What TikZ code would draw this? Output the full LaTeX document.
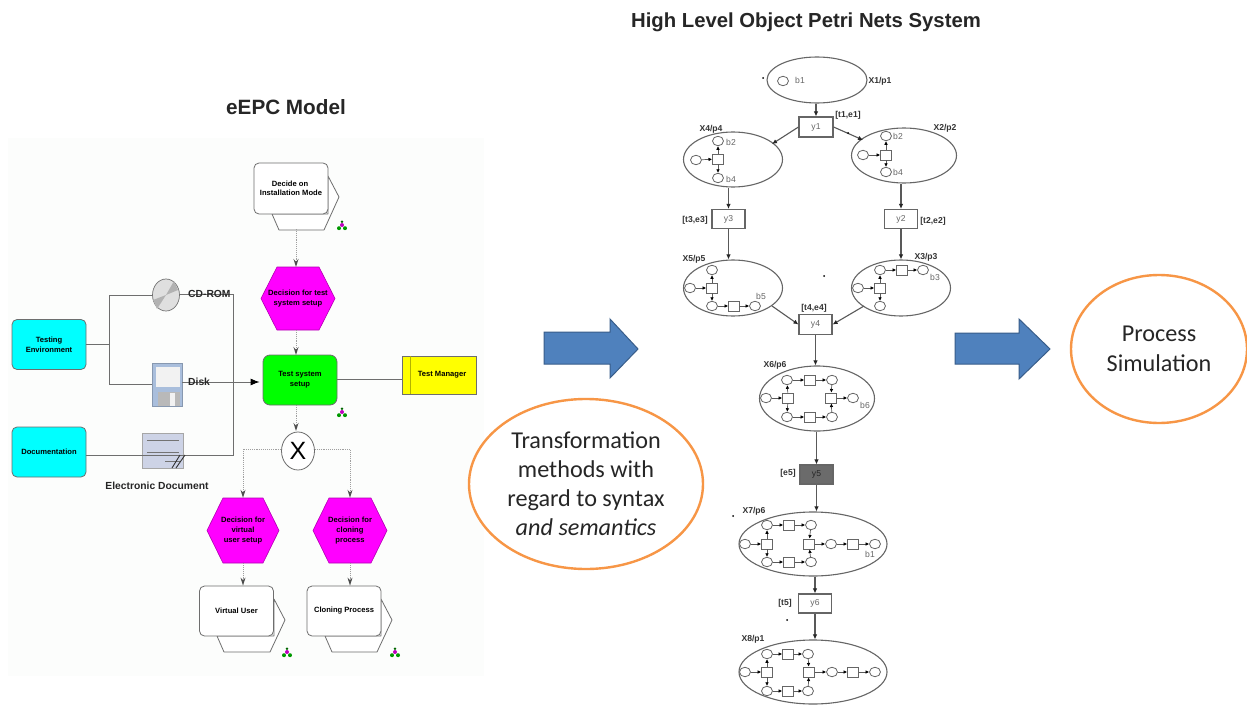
\documentclass[tikz,border=0pt]{standalone}
\usepackage{fontspec}
\setmainfont{Liberation Sans}
\newfontfamily\calloutfont{Carlito}
\usetikzlibrary{shapes.geometric,arrows.meta,calc}
\definecolor{panel}{HTML}{FCFDFC}
\definecolor{orangeline}{HTML}{F79646}
\definecolor{bluefill}{HTML}{4F81BD}
\definecolor{blueedge}{HTML}{385D8A}
\definecolor{edgegray}{HTML}{6E6E6E}
\definecolor{magentafill}{HTML}{FF00FF}
\definecolor{cyanfill}{HTML}{00FFFF}
\definecolor{greenfill}{HTML}{00FF00}
\definecolor{yellowfill}{HTML}{FFFF00}
\definecolor{iconblue}{HTML}{A9BEDC}
\definecolor{docblue}{HTML}{CDD3E6}
\tikzset{
  x=1pt,y=-1pt,
  titletext/.style={font=\bfseries\fontsize{20.7}{24}\selectfont,text=black!85,inner sep=0},
  epcbox/.style={rounded corners=5pt,draw=edgegray,line width=.8pt,minimum width=74pt,minimum height=50pt,inner sep=0,align=center,font=\bfseries\fontsize{7.6}{10}\selectfont},
  bluebox/.style={epcbox,fill=cyanfill},
  hexlabel/.style={inner sep=0,align=center,font=\bfseries\fontsize{7.6}{10}\selectfont},
  hexshape/.style={fill=magentafill,draw=magentafill!70!black,line width=.6pt},
  pentshape/.style={fill=white,draw=edgegray,line width=.8pt,line join=round},
  flowline/.style={draw=gray!75,densely dotted,line width=.9pt,-{Stealth[open,length=8pt,width=5pt,black!70]}},
  assoc/.style={draw=edgegray,line width=.9pt},
  iconlabel/.style={inner sep=0,font=\bfseries\fontsize{10.3}{12}\selectfont,text=black!85},
  bigarrow/.style={fill=bluefill,draw=blueedge,line width=1pt},
  callout/.style={ellipse,draw=orangeline,line width=2.4pt,fill=white,inner sep=0,align=center},
  ptext/.style={inner sep=0,font=\bfseries\fontsize{8.6}{10}\selectfont,text=black!80},
  gtext/.style={inner sep=0,font=\fontsize{8.6}{10}\selectfont,text=black!60},
  region/.style={ellipse,draw=black!60,line width=1.1pt,inner sep=0},
  tbox/.style={draw=black!60,line width=1.1pt,fill=white,inner sep=0,minimum width=33pt,minimum height=19pt,font=\fontsize{8.6}{10}\selectfont,text=black!60},
  plc/.style={ellipse,draw=black!60,line width=.8pt,fill=white,inner sep=0,minimum width=11pt,minimum height=9.5pt},
  trn/.style={rectangle,draw=black!60,line width=.8pt,fill=white,inner sep=0,minimum width=11pt,minimum height=10pt},
  pnedge/.style={draw=black!65,line width=1.1pt,-{Latex[length=5pt,width=4.5pt,black!85]}},
  inarc/.style={draw=black!65,line width=.7pt,-{Latex[length=3.6pt,width=3.6pt,black]}},
  speck/.style={circle,fill=black,inner sep=0,minimum size=2pt},
}
\newcommand{\hexnode}[6]{%
  \path[hexshape] (#2-#4,#3) -- (#2-#4+16,#3-#5) -- (#2+#4-16,#3-#5) -- (#2+#4,#3) -- (#2+#4-16,#3+#5) -- (#2-#4+16,#3+#5) -- cycle;
  \node[hexlabel,minimum width=2*#4*1pt,minimum height=2*#5*1pt] (#1) at (#2,#3) {#6};}
\newcommand{\rolepent}[4]{% left x, top y of box, box width, box height
  \path[pentshape] (#1+#3,#2+13) -- (#1+#3+11,#2+34) -- (#1+#3-4,#2+#4+16) -- (#1+25,#2+#4+16) -- (#1+18,#2+#4) -- (#1+#3,#2+#4) -- cycle;}
\newcommand{\tiicon}[2]{%
  \fill[green!60!black] (#1-3,#2+3.2) circle (2pt) (#1+3,#2+3.2) circle (2pt);
  \fill[magentafill!75!black] (#1,#2) circle (2pt);
  \fill[green!40!black] (#1,#2-3.2) circle (1.4pt);}
\newcommand{\plc}[3]{\node[plc] (#1) at (#2,#3) {};}
\newcommand{\trn}[3]{\node[trn] (#1) at (#2,#3) {};}
\newcommand{\arcs}[1]{\foreach \a/\b in {#1} \draw[inarc] (\a) -- (\b);}
\begin{document}
\begin{tikzpicture}
\useasboundingbox (0,0) rectangle (1247,706);
\fill[white] (0,0) rectangle (1247,706);
\fill[panel] (8,138) rectangle (484,676);

% titles
\node[titletext] (t1) at (286,107) {eEPC Model};
\node[titletext,font=\bfseries\fontsize{20.3}{24}\selectfont] (t2) at (806,22) {High Level Object Petri Nets System};

% --- eEPC model ---
\coordinate (j1) at (109,344);
\coordinate (j2) at (233,294);
\coordinate (j3) at (233,455);
\rolepent{254}{163}{74}{51}
\node[epcbox,fill=white,minimum height=51pt] (decide) at (291,188.5) {\hspace*{-2pt}Decide on\\[-.5pt]Installation Mode};
\hexnode{dtest}{298}{298.5}{37}{31.5}{Decision for test\\system setup}
\node[epcbox,fill=greenfill,rounded corners=7pt] (tss) at (300,380) {Test system\\setup};
\node[draw=edgegray,fill=yellowfill,line width=.8pt,minimum width=74pt,minimum height=38pt,inner sep=0,font=\bfseries\fontsize{7.6}{10}\selectfont] (tm) at (439,375) {\hspace*{6pt}Test Manager};
\draw[yellowfill!70!black,line width=.5pt] (410,356) -- (410,394);
\node[bluebox] (te) at (49,344.5) {Testing\\Environment};
\node[bluebox] (docu) at (49,452) {Documentation};

% resources
\node[ellipse,draw=black!55,fill=gray!25,line width=.7pt,minimum width=27pt,minimum height=32pt,inner sep=0] (cd) at (166,295) {};
\fill[gray!60] (166,295) -- (174,281) -- (178,290) -- cycle;
\fill[gray!60] (166,295) -- (157,309) -- (153,300) -- cycle;
\node[rectangle,fill=iconblue,draw=iconblue!80!black,line width=.6pt,minimum width=30pt,minimum height=43pt,inner sep=0] (disk) at (167,384.5) {};
\fill[gray!10] (156,367) rectangle (180,387);
\fill[gray!55] (158,392) rectangle (180,406);
\fill[gray!10] (170,393) rectangle (175,406);
\node[rectangle,fill=docblue,draw=black!35,line width=.6pt,minimum width=41pt,minimum height=35pt,inner sep=0] (edoc) at (162.5,450.5) {};
\draw[black!55,line width=.8pt] (147,440) -- (179,440) (147,452) -- (179,452) (165,461) -- (180,461);
\draw[assoc] (te.east |- j1) -- (j1);
\draw[assoc] (j1 |- cd.west) -- (cd.west);
\draw[assoc] (j1) |- (disk.west);
\draw[assoc] (j1) -- (j1 |- cd.west);
\draw[assoc] (docu.east |- j3) -- (j3) -- (j2) -- (cd.east |- j2);
\draw[black!80,line width=.9pt] (172,468) -- (180,455) (176,468) -- (185,455);
\draw[assoc,-{Latex[length=9pt,width=7pt,black]},shorten >=3pt] (disk.east |- 0,382) -- (tss.west |- 0,382);
\draw[assoc] (tss.east |- 0,379) -- (tm.west |- 0,379);
\node[iconlabel,anchor=west] (lcd) at (188,294) {CD-ROM};
\node[iconlabel,anchor=west] (ldisk) at (188,382) {Disk};
\node[iconlabel] (ledoc) at (157,486) {Electronic Document};

% XOR and lower branches
\node[ellipse,draw=edgegray,fill=white,line width=.8pt,minimum width=33pt,minimum height=38pt,inner sep=0,font=\fontsize{25}{25}\selectfont] (xor) at (298,451) {X};
\hexnode{dvirt}{243}{530.5}{36}{32.5}{Decision for\\virtual\\user setup}
\hexnode{dclone}{350}{530.5}{37}{32.5}{Decision for\\cloning\\process}
\rolepent{199}{586}{75}{50}
\node[epcbox,fill=white] (vuser) at (236.5,611) {Virtual User};
\rolepent{307}{586}{74}{50}
\node[epcbox,fill=white] (cproc) at (344,611) {Cloning Process};
\draw[flowline] (296,229) -- (296,267);
\draw[flowline] (296,330) -- (296,355);
\draw[flowline] (296,405) -- (296,431);
\draw[flowline] (xor.west |- 0,449) -| (dvirt.north);
\draw[flowline] (xor.east |- 0,449) -| (dclone.north);
\draw[flowline] (dvirt.south) -- (vuser.north -| dvirt.south);
\draw[flowline] (dclone.south) -- (cproc.north -| dclone.south);
\tiicon{342}{225}
\tiicon{342}{412}
\tiicon{287}{652}
\tiicon{395}{652}

% --- block arrows ---
\path[bigarrow] (544,332) -- (610,332) -- (610,319) -- (638,349) -- (610,378) -- (610,364) -- (544,364) -- cycle;
\path[bigarrow] (955,333) -- (1019,333) -- (1019,319) -- (1050,349) -- (1019,379) -- (1019,364) -- (955,364) -- cycle;

% --- callouts ---
\node[callout,minimum width=234pt,minimum height=170pt,font=\calloutfont\fontsize{24.2}{29}\selectfont,text=black!85] (co1) at (586,484) {Transformation\\methods with\\regard to syntax\\\itshape and semantics};
\node[callout,minimum width=176pt,minimum height=148pt,font=\calloutfont\fontsize{24.2}{30}\selectfont,text=black!85] (co2) at (1159,349) {Process\\Simulation};

% --- Petri net: regions ---
\node[region,minimum width=100pt,minimum height=46pt] (X1) at (817,80) {};
\node[region,minimum width=99pt,minimum height=55pt] (X4) at (733,159.5) {};
\node[region,minimum width=105pt,minimum height=55pt] (X2) at (904,155.5) {};
\node[region,minimum width=99pt,minimum height=56pt] (X5) at (733,288) {};
\node[region,minimum width=99pt,minimum height=56pt] (X3) at (901,288) {};
\node[region,minimum width=115pt,minimum height=65pt] (X6) at (817,398.5) {};
\node[region,minimum width=148pt,minimum height=64pt] (X7) at (813,544) {};
\node[region,minimum width=148pt,minimum height=64pt] (X8) at (813,672) {};

\node[tbox,minimum width=34pt,minimum height=20pt] (y1) at (816,127) {y1};
\node[tbox] (y3) at (728.5,219) {y3};
\node[tbox] (y2) at (901,219) {y2};
\node[tbox,minimum height=20pt] (y4) at (815.5,324.5) {\raisebox{-4pt}{y4}};
\node[tbox,fill=black!58,text=black!85] (y5) at (816.5,474.5) {y5};
\node[tbox] (y6) at (815,603.5) {y6};

\draw[pnedge] (y1 |- X1.south) -- (y1);
\draw[pnedge] (y1.west) -- (772,144);
\draw[pnedge] (y1.east) -- (863,140);
\draw[pnedge] (y3 |- X4.south) -- (y3);
\draw[pnedge] (y2 |- X2.south) -- (y2);
\draw[pnedge] (y3.south) -- (y3 |- X5.north);
\draw[pnedge] (y2.south) -- (y2 |- X3.north);
\draw[pnedge] (772,306) -- (y4.west);
\draw[pnedge] (864,306) -- (y4.east);
\draw[pnedge] (y4.south) -- (y4 |- X6.north);
\draw[pnedge] (y5 |- X6.south) -- (y5.north);
\draw[pnedge] (y5.south) -- (y5 |- X7.north);
\draw[pnedge] (y6 |- X7.south) -- (y6.north);
\draw[pnedge] (y6.south) -- (y6 |- X8.north);

% --- Petri net: inner nets ---
\plc{a1}{783}{81}
\plc{d1}{696}{160} \trn{d2}{718}{159} \plc{d3}{718}{141} \plc{d4}{718}{178}
\arcs{d1/d2,d2/d3,d2/d4}
\plc{e1}{863}{155} \trn{e2}{886}{155} \plc{e3}{886}{136} \plc{e4}{886}{172}
\arcs{e1/e2,e2/e3,e2/e4}
\plc{f1}{690}{288} \trn{f2}{712}{288} \plc{f3}{712}{270} \plc{f4}{712}{306} \trn{f5}{734}{306} \plc{f6}{755}{306}
\arcs{f1/f2,f2/f3,f2/f4,f4/f5,f5/f6}
\plc{g1}{858}{288} \trn{g2}{880}{288} \plc{g3}{880}{270} \plc{g4}{880}{306} \trn{g5}{902}{270} \plc{g6}{923}{270}
\arcs{g1/g2,g2/g3,g2/g4,g3/g5,g5/g6}
\plc{h1}{766}{398} \trn{h2}{788}{398} \plc{h3}{787}{380} \plc{h4}{787}{417} \trn{h5}{810}{380} \trn{h6}{810}{417}
\plc{h7}{832}{380} \plc{h8}{832}{417} \trn{h9}{831}{398} \plc{h10}{853}{398}
\arcs{h1/h2,h2/h3,h2/h4,h3/h5,h4/h6,h5/h7,h6/h8,h7/h9,h8/h9,h9/h10}
\plc{i1}{745}{544} \trn{i2}{767}{544} \plc{i3}{767}{525} \plc{i4}{767}{562} \trn{i5}{789}{525} \trn{i6}{789}{562}
\plc{i7}{811}{525} \plc{i8}{811}{562} \trn{i9}{809}{544} \plc{i10}{831}{544} \trn{i11}{853}{544} \plc{i12}{875}{544}
\arcs{i1/i2,i2/i3,i2/i4,i3/i5,i4/i6,i5/i7,i6/i8,i7/i9,i8/i9,i9/i10,i10/i11,i11/i12}
\plc{k1}{745}{672} \trn{k2}{767}{672} \plc{k3}{767}{654} \plc{k4}{767}{691} \trn{k5}{788}{654} \trn{k6}{788}{691}
\plc{k7}{808}{654} \plc{k8}{808}{691} \trn{k9}{809}{672} \plc{k10}{832}{672} \trn{k11}{853}{672} \plc{k12}{875}{672}
\arcs{k1/k2,k2/k3,k2/k4,k3/k5,k4/k6,k5/k7,k6/k8,k7/k9,k8/k9,k9/k10,k10/k11,k11/k12}

% --- Petri net: labels ---
\node[ptext] (l1) at (880,81) {X1/p1};
\node[ptext] (l2) at (711,129) {X4/p4};
\node[ptext] (l3) at (945,128) {X2/p2};
\node[ptext] (l4) at (694,259) {X5/p5};
\node[ptext] (l5) at (926,257) {X3/p3};
\node[ptext] (l6) at (775,365) {X6/p6};
\node[ptext] (l7) at (754,511) {X7/p6};
\node[ptext] (l8) at (753,639) {X8/p1};
\node[ptext] (g1t) at (848,115) {[t1,e1]};
\node[ptext] (g3t) at (695,220) {[t3,e3]};
\node[ptext] (g2t) at (933,221) {[t2,e2]};
\node[ptext] (g4t) at (814,308) {[t4,e4]};
\node[ptext] (g5t) at (788,473) {[e5]};
\node[ptext] (g6t) at (785,603) {[t5]};
\node[gtext] (b1) at (800,80) {b1};
\node[gtext] (b2a) at (731,142) {b2};
\node[gtext] (b4a) at (731,179) {b4};
\node[gtext] (b2b) at (898,136) {b2};
\node[gtext] (b4b) at (898,172) {b4};
\node[gtext] (b5) at (761,296) {b5};
\node[gtext] (b3) at (935,277) {b3};
\node[gtext] (b6) at (865,405) {b6};
\node[gtext] (b1b) at (870,554) {b1};

% specks
\node[speck] (s1) at (763,78) {};
\node[speck] (s2) at (824,276) {};
\node[speck] (s3) at (733,516) {};
\node[speck] (s4) at (787,620) {};
\node[speck] (s5) at (848,133) {};
\end{tikzpicture}
\end{document}
